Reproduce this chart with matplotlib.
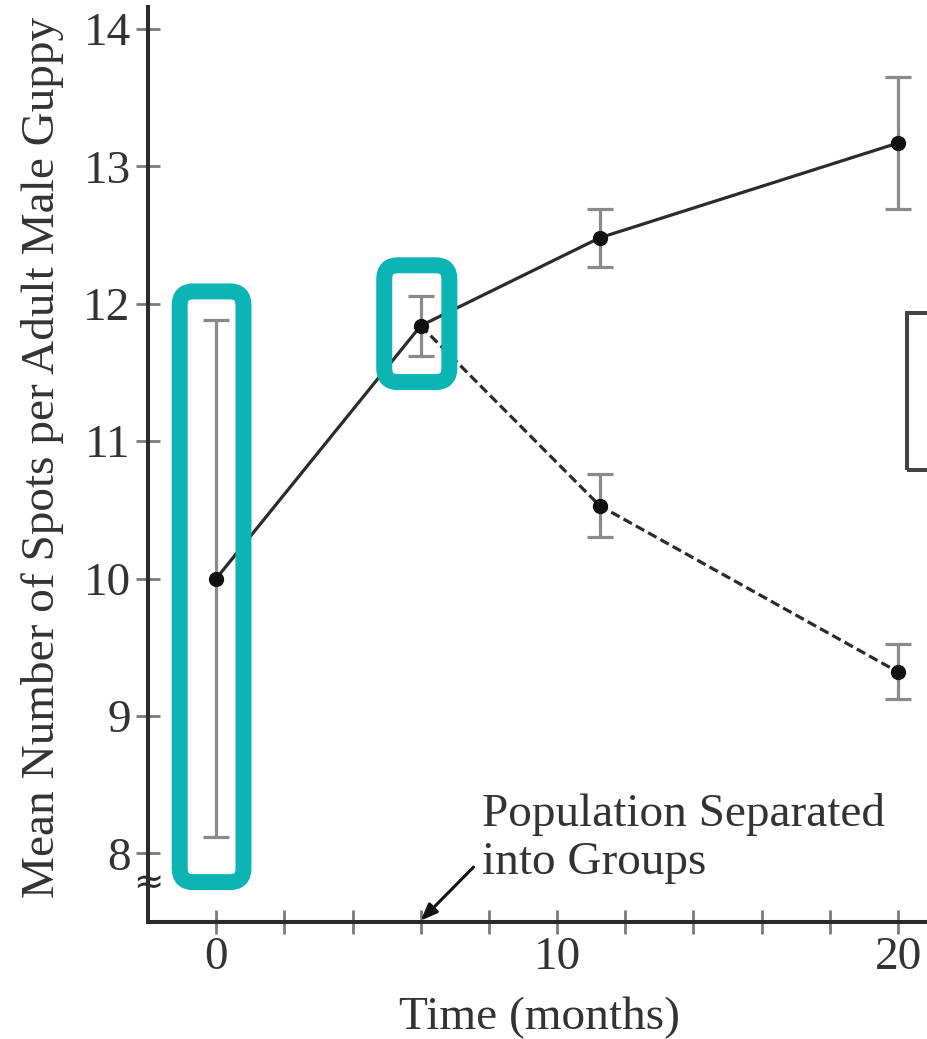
import numpy as np
import matplotlib
matplotlib.use('Agg')
import matplotlib.pyplot as plt
from matplotlib.patches import FancyBboxPatch, Rectangle

plt.rcParams['font.family'] = ['Liberation Serif', 'DejaVu Serif']

# data
months = [0, 6, 11.25, 20]
upper_mean = [10.0, 11.84, 12.48, 13.17]
upper_err = [1.88, 0.22, 0.21, 0.48]
lower_months = [6, 11.25, 20]
lower_mean = [11.84, 10.53, 9.32]
lower_err = [0.22, 0.23, 0.20]
x_ticks = [0, 10, 20]
y_ticks = [8, 9, 10, 11, 12, 13, 14]

TEAL = '#0cb4b4'
INK = '#2b2b2b'
GREY = '#8a8a8a'

fig = plt.figure(figsize=(9.27, 10.39), dpi=100)
ax = fig.add_axes([148 / 927, 117 / 1039, 779 / 927, 915 / 1039])
ax.set_xlim(-2, 20.85)
ax.set_ylim(7.5, 14.16)

for s in ['top', 'right']:
    ax.spines[s].set_visible(False)
for s in ['left', 'bottom']:
    ax.spines[s].set_linewidth(2.9)
    ax.spines[s].set_color(INK)

# error bars first, then lines and points
ax.errorbar(months, upper_mean, yerr=upper_err, fmt='none', ecolor=GREY,
            elinewidth=2.3, capsize=9.5, capthick=2.3, zorder=2)
ax.errorbar(lower_months[1:], lower_mean[1:], yerr=lower_err[1:], fmt='none',
            ecolor=GREY, elinewidth=2.3, capsize=9.5, capthick=2.3, zorder=2)
ax.plot(months, upper_mean, '-', color=INK, lw=2.3, zorder=3)
ax.plot(lower_months, lower_mean, color=INK, lw=2.3, ls=(0, (3, 1.4)), zorder=3)
ax.plot(months, upper_mean, 'o', color='#111111', ms=10, zorder=4)
ax.plot(lower_months[1:], lower_mean[1:], 'o', color='#111111', ms=10, zorder=4)

ax.set_xticks(np.arange(0, 21, 2), minor=True)
ax.set_xticks(x_ticks)
ax.set_yticks(y_ticks)
ax.tick_params(axis='both', which='both', direction='inout', length=17,
               width=2.0, color='#7a7a7a', labelsize=34, labelcolor='#333333')
ax.tick_params(axis='x', pad=2)
ax.tick_params(axis='y', pad=4)

ax.set_xlabel('Time (months)', fontsize=34, color='#333333')
ax.set_ylabel('Mean Number of Spots per Adult Male Guppy', fontsize=34, color='#333333')
ax.xaxis.set_label_coords(0.503, -0.082)
ax.yaxis.set_label_coords(-0.108, 0.508)

# axis break mark
ax.text(-2, 7.78, '≈', fontsize=26, ha='center', va='center', color=INK,
        family='DejaVu Sans', clip_on=False, zorder=5)

# annotation
ax.annotate('', xy=(6.0, 7.51), xytext=(7.55, 7.9),
            arrowprops=dict(arrowstyle='-|>,head_length=1.0,head_width=0.4',
                            color='#111111', lw=2.2, shrinkA=0, shrinkB=0))
ax.text(7.8, 8.44, 'Population Separated\ninto Groups', fontsize=34,
        color='#333333', ha='left', va='top', linespacing=1.18)

# legend box cut off at the right edge
ax.add_patch(Rectangle((20.27, 10.79), 3, 1.14, fill=False, ec='#444444',
                       lw=2.9, clip_on=False))

# teal highlight boxes
aspect = (779 / 22.85) / (915 / 6.66)
highlights = [(-1.07, 7.79, 1.87, 4.30), (4.93, 11.43, 1.91, 0.85)]
for hx, hy, hw, hh in highlights:
    ax.add_patch(FancyBboxPatch((hx, hy), hw, hh,
                                boxstyle='round,pad=0,rounding_size=0.4',
                                mutation_aspect=aspect, fill=False,
                                ec=TEAL, lw=11.5, clip_on=False, zorder=6))

fig.savefig('out.png', dpi=100)
